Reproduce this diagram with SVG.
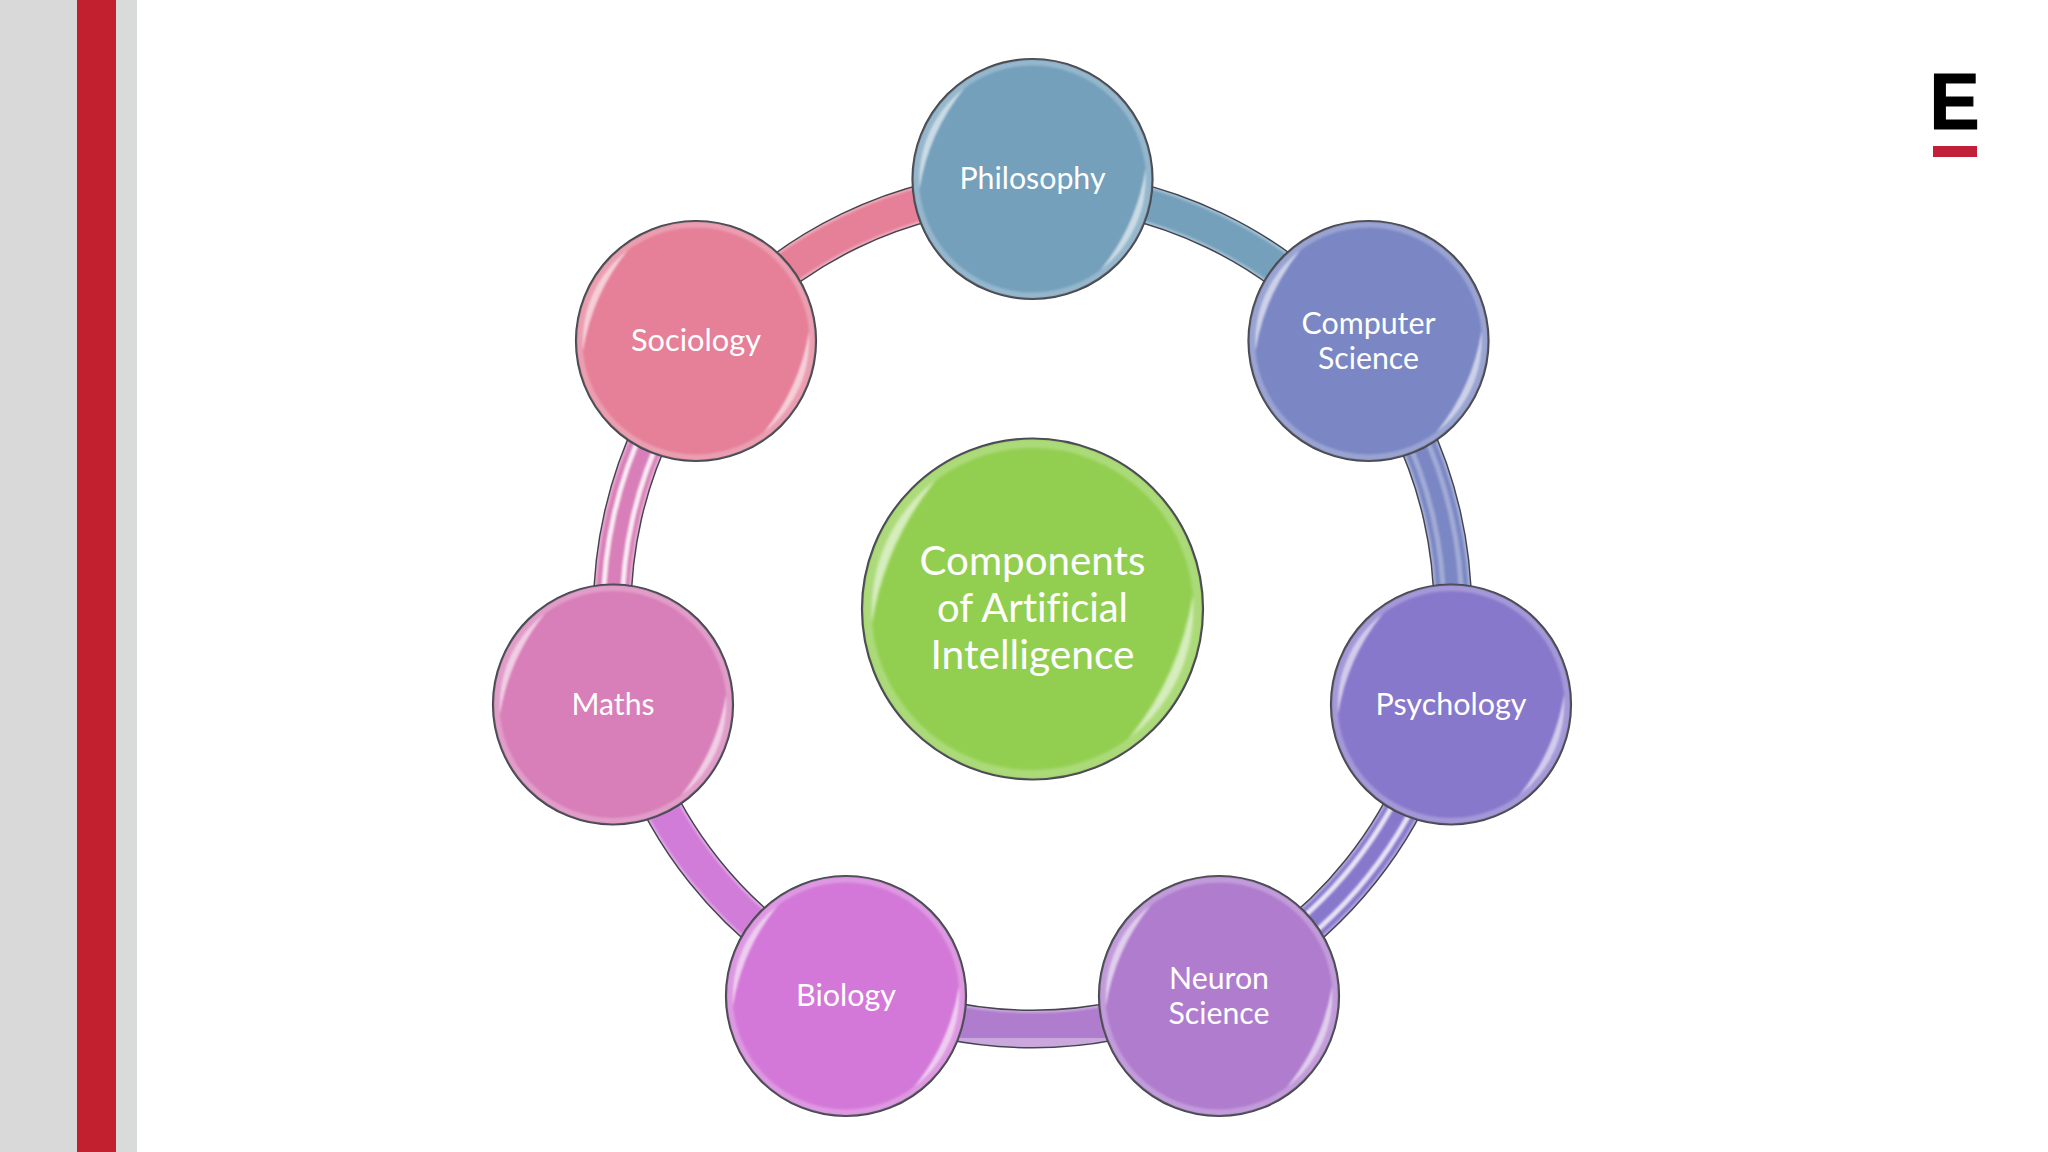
<svg xmlns="http://www.w3.org/2000/svg" width="2048" height="1152" viewBox="0 0 2048 1152">
<style>
.lbl{font-family:Lato,"Open Sans","Liberation Sans",sans-serif;font-size:30px;fill:#fff;text-anchor:middle;font-weight:400;font-variant-ligatures:none}
.big{font-size:40px}
.disc{stroke:#3f4048;stroke-width:2.2}
.out{fill:none;stroke:#45454f;stroke-width:39}
.rim{fill:none;stroke-width:36}
.core{fill:none;stroke-width:32;filter:url(#soft)}
.tint{fill:none;stroke:#fff;stroke-width:36;stroke-opacity:.34}
.streak{fill:none;stroke:#fff;stroke-width:5;filter:url(#soft)}
</style>
<defs>
<filter id="soft" x="-20%" y="-20%" width="140%" height="140%"><feGaussianBlur stdDeviation="1.2"/></filter>
<path id="s0" d="M1032.5 189A420 420 0 0 1 1360.9 347.1"/>
<path id="s1" d="M1360.9 347.1A420 420 0 0 1 1442 702.5"/>
<path id="s2" d="M1442 702.5A420 420 0 0 1 1214.7 987.4"/>
<path id="s3" d="M1214.7 987.4A420 420 0 0 1 850.3 987.4"/>
<path id="s4" d="M850.3 987.4A420 420 0 0 1 623 702.5"/>
<path id="s5" d="M623 702.5A420 420 0 0 1 704.1 347.1"/>
<path id="s6" d="M704.1 347.1A420 420 0 0 1 1032.5 189"/>
<g id="gloss">
<circle r="116.5" fill="none" stroke="#fff" stroke-opacity=".24" stroke-width="6" filter="url(#soft)"/>
<g fill="#fff" fill-opacity=".62" filter="url(#soft)">
<path d="M-113 10A114 114 0 0 1-68 -91A215 215 0 0 0-113 10Z"/>
<path d="M113 -10A114 114 0 0 1 68 91A215 215 0 0 0 113 -10Z"/>
</g>
</g>
</defs>
<rect width="2048" height="1152" fill="#fff"/>
<rect x="0" y="0" width="77" height="1152" fill="#d9d9d9"/>
<rect x="77" y="0" width="39" height="1152" fill="#c21f2f"/>
<rect x="116" y="0" width="21" height="1152" fill="#d9dbdb"/>
<g id="logo">
<text transform="translate(1929.5 129) scale(.95 1)" font-family="Liberation Sans, sans-serif" font-weight="700" font-size="79" stroke="#000" stroke-width="1.2" fill="#000">E</text>
<rect x="1933" y="146" width="44" height="11" fill="#c21f38"/>
</g>
<g id="connectors">
<g stroke="#74a0bc"><use href="#s0" class="out"/><use href="#s0" class="rim"/><use href="#s0" class="tint"/><use href="#s0" class="core"/></g>
<g stroke="#7a87c4"><use href="#s1" class="out"/><use href="#s1" class="rim"/><use href="#s1" class="tint"/><use href="#s1" class="core"/>
<path class="streak" stroke-opacity=".3" d="M1353.8 352.7A411 411 0 0 1 1433.2 700.4M1367.9 341.5A429 429 0 0 1 1450.7 704.5"/></g>
<g stroke="#8878cc"><use href="#s2" class="out"/><use href="#s2" class="rim"/><use href="#s2" class="tint"/><use href="#s2" class="core"/>
<path class="streak" stroke-opacity=".8" d="M1432.2 700.2A410 410 0 0 1 1210.4 978.4M1450.7 704.5A429 429 0 0 1 1218.6 995.5"/></g>
<g stroke="#af7cce"><use href="#s3" class="out"/><use href="#s3" class="rim"/><use href="#s3" class="tint"/><use href="#s3" class="core"/></g>
<g stroke="#d07bd8"><use href="#s4" class="out"/><use href="#s4" class="rim"/><use href="#s4" class="tint"/><use href="#s4" class="core"/></g>
<g stroke="#d87eb8"><use href="#s5" class="out"/><use href="#s5" class="rim"/><use href="#s5" class="tint"/><use href="#s5" class="core"/>
<path class="streak" stroke-opacity=".85" d="M632.8 700.2A410 410 0 0 1 712 353.4M614.3 704.5A429 429 0 0 1 697.1 341.5"/></g>
<g stroke="#e58098"><use href="#s6" class="out"/><use href="#s6" class="rim"/><use href="#s6" class="tint"/><use href="#s6" class="core"/></g>
</g>
<g id="philosophy"><circle class="disc" cx="1032.5" cy="179" r="120" fill="#74a0bc"/><use href="#gloss" transform="translate(1032.5 179)"/><text class="lbl" x="1032.5" y="189" textLength="146" lengthAdjust="spacingAndGlyphs">Philosophy</text></g>
<g id="computer-science"><circle class="disc" cx="1368.5" cy="341" r="120" fill="#7a87c4"/><use href="#gloss" transform="translate(1368.5 341)"/><text class="lbl" x="1368.5" y="334" textLength="134" lengthAdjust="spacingAndGlyphs">Computer</text><text class="lbl" x="1368.5" y="369" textLength="101" lengthAdjust="spacingAndGlyphs">Science</text></g>
<g id="psychology"><circle class="disc" cx="1451" cy="704.5" r="120" fill="#8878cc"/><use href="#gloss" transform="translate(1451 704.5)"/><text class="lbl" x="1451" y="715" textLength="151" lengthAdjust="spacingAndGlyphs">Psychology</text></g>
<g id="neuron-science"><circle class="disc" cx="1219" cy="996" r="120" fill="#af7cce"/><use href="#gloss" transform="translate(1219 996)"/><text class="lbl" x="1219" y="989" textLength="100" lengthAdjust="spacingAndGlyphs">Neuron</text><text class="lbl" x="1219" y="1024" textLength="101" lengthAdjust="spacingAndGlyphs">Science</text></g>
<g id="biology"><circle class="disc" cx="846" cy="996" r="120" fill="#d378d8"/><use href="#gloss" transform="translate(846 996)"/><text class="lbl" x="846" y="1006" textLength="100" lengthAdjust="spacingAndGlyphs">Biology</text></g>
<g id="maths"><circle class="disc" cx="613" cy="704.5" r="120" fill="#d87eb8"/><use href="#gloss" transform="translate(613 704.5)"/><text class="lbl" x="613" y="715" textLength="83" lengthAdjust="spacingAndGlyphs">Maths</text></g>
<g id="sociology"><circle class="disc" cx="696" cy="341" r="120" fill="#e58098"/><use href="#gloss" transform="translate(696 341)"/><text class="lbl" x="696" y="351" textLength="130" lengthAdjust="spacingAndGlyphs">Sociology</text></g>
<g id="center"><circle class="disc" cx="1032.5" cy="609" r="170.5" fill="#92cf50"/><use href="#gloss" transform="translate(1032.5 609) scale(1.42)"/><text class="lbl big" x="1032.5" y="575" textLength="226" lengthAdjust="spacingAndGlyphs">Components</text><text class="lbl big" x="1032.5" y="622" textLength="191" lengthAdjust="spacingAndGlyphs">of Artificial</text><text class="lbl big" x="1032.5" y="669" textLength="204" lengthAdjust="spacingAndGlyphs">Intelligence</text></g>
</svg>
